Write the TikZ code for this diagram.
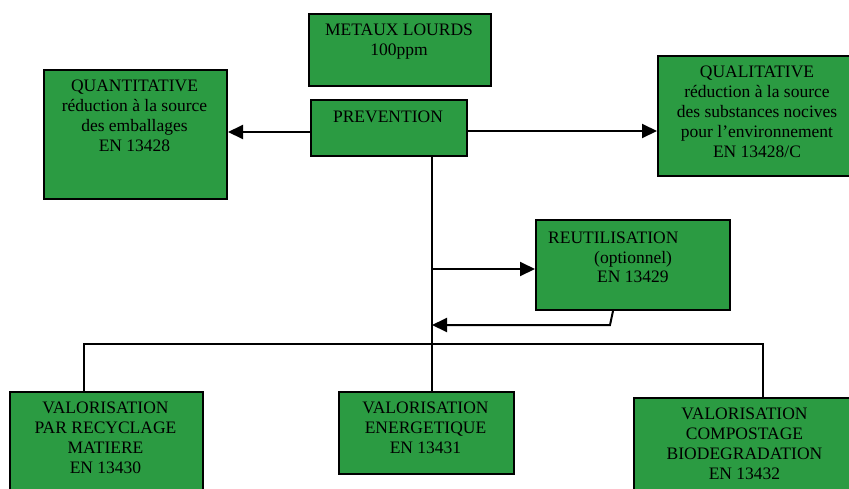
\documentclass[tikz,border=0pt]{standalone}
\usepackage{fontspec}
\setmainfont{Liberation Serif}
\usetikzlibrary{arrows.meta}
\definecolor{boxgreen}{RGB}{43,155,66}
\begin{document}
\begin{tikzpicture}[x=1pt,y=-1pt,
  box/.style={draw=black, line width=2pt, fill=boxgreen, rectangle, inner sep=0pt, anchor=north west},
  txt/.style={font=\fontsize{17.5}{20}\selectfont, align=center, inner sep=0pt, anchor=north},
  ltxt/.style={font=\fontsize{17.5}{20}\selectfont, inner sep=0pt, anchor=base west},
  conn/.style={line width=2pt},
  arr/.style={conn, -{Triangle[length=15pt,width=14pt]}}]
\useasboundingbox (0,0) rectangle (849,488);
\clip (0,0) rectangle (849,488);
% boxes
\node[box, minimum width=182pt, minimum height=72pt] (met) at (308,13) {};
\node[box, minimum width=156pt, minimum height=56pt] (prev) at (310,99) {};
\node[box, minimum width=183pt, minimum height=129pt] (quant) at (43,69) {};
\node[box, minimum width=200pt, minimum height=120pt] (qual) at (657,55) {};
\node[box, minimum width=194pt, minimum height=90pt] (reut) at (535,219) {};
\node[box, minimum width=193pt, minimum height=110pt] (v1) at (9,391) {};
\node[box, minimum width=175pt, minimum height=82pt] (v2) at (338,391) {};
\node[box, minimum width=223pt, minimum height=100pt] (v3) at (633,397) {};
% texts
\node[txt] (tmet) at (399,24) {METAUX LOURDS\\100ppm};
\node[txt] (tprev) at (388,111) {PREVENTION};
\node[txt] (tquant) at (134.5,80) {QUANTITATIVE\\réduction à la source\\des emballages\\EN 13428};
\node[txt] (tqual) at (757,66) {QUALITATIVE\\réduction à la source\\des substances nocives\\pour l’environnement\\EN 13428/C};
\node[ltxt] (treut1) at (548,243) {REUTILISATION};
\node[ltxt] (treut2) at (594,263) {(optionnel)};
\node[ltxt] (treut3) at (597,282) {EN 13429};
\node[txt] (tv1) at (105.5,402) {VALORISATION\\PAR RECYCLAGE\\MATIERE\\EN 13430};
\node[txt] (tv2) at (425.5,402) {VALORISATION\\ENERGETIQUE\\EN 13431};
\node[txt] (tv3) at (744.5,408) {VALORISATION\\COMPOSTAGE\\BIODEGRADATION\\EN 13432};
% coordinates
\coordinate (tx) at (432,344);
\coordinate (bl) at (84,344);
\coordinate (br) at (763,344);
\coordinate (ra) at (432,269);
\coordinate (rx) at (613,0);
\coordinate (rr) at (610,325);
% connectors
\draw[arr] ([yshift=-4pt]prev.west) -- ([yshift=-4pt]prev.west -| quant.east);
\draw[arr] ([yshift=-3pt]prev.east) -- ([yshift=-3pt]prev.east -| qual.west);
\draw[conn] (prev.south -| tx) -- (v2.north -| tx);
\draw[conn] (v1.north -| bl) -- (bl) -- (br) -- (v3.north -| br);
\draw[arr] (ra) -- (ra -| reut.west);
\draw[arr] (reut.south -| rx) -- (rr) -- (rr -| tx);
\end{tikzpicture}
\end{document}
